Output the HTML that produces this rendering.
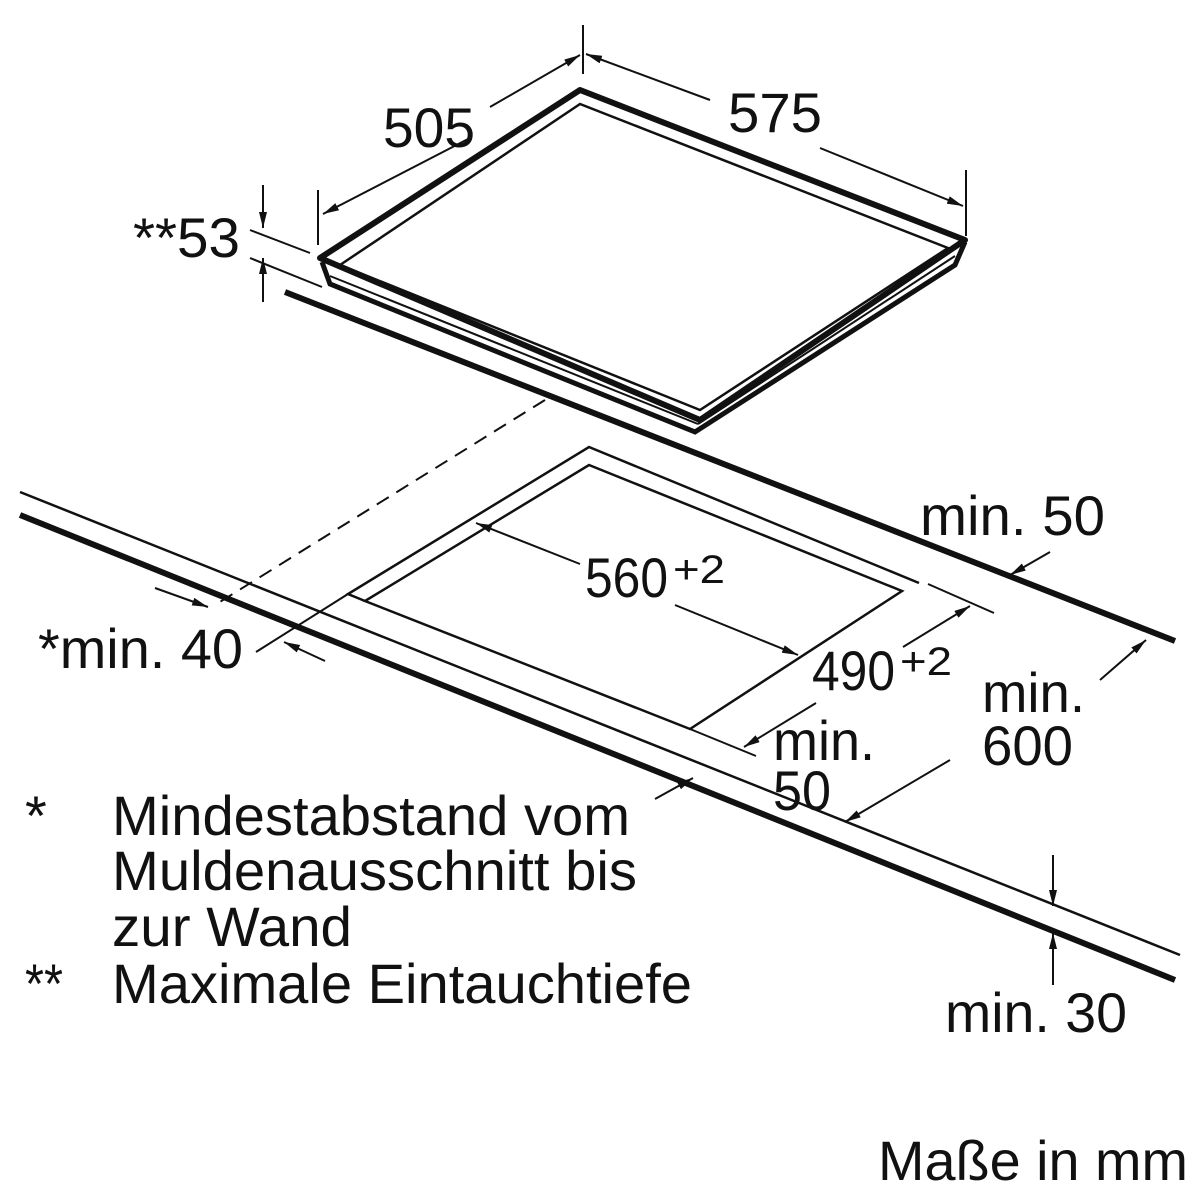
<!DOCTYPE html>
<html><head><meta charset="utf-8"><style>
html,body{margin:0;padding:0;background:#fff}
svg{display:block}
text{font-family:"Liberation Sans",sans-serif;font-size:56px;fill:#111}
</style></head><body>
<svg width="1200" height="1200" viewBox="0 0 1200 1200" xmlns="http://www.w3.org/2000/svg">
<defs>
<marker id="a" viewBox="0 0 16 8" refX="16" refY="4" markerWidth="16" markerHeight="8" orient="auto" markerUnits="userSpaceOnUse"><path d="M0,0L16,4L0,8z" fill="#111"/></marker>
</defs>
<g fill="none" stroke="#111" stroke-linecap="butt" stroke-linejoin="miter">
<polygon points="320,258 580,90 965,240 700,420" stroke-width="6" stroke-linejoin="round"/>
<polygon points="340,265 580,104 948,248 700,410" stroke-width="2.5"/>
<polyline points="322,262 330,284 695,432 955,265 965,242" stroke-width="5"/>
<line x1="330" y1="276" x2="698" y2="424" stroke-width="2"/>
<line x1="698" y1="424" x2="955" y2="256" stroke-width="2"/>
<line x1="285" y1="292" x2="1175" y2="641" stroke-width="6"/>
<line x1="20" y1="492" x2="1180" y2="955" stroke-width="2.5"/>
<line x1="20" y1="515" x2="1175" y2="980" stroke-width="6"/>
<line x1="545" y1="400" x2="215" y2="605" stroke-width="2" stroke-dasharray="14,9"/>
<polyline points="365,601 348,594 589,447 919,583" stroke-width="2.5"/>
<polygon points="365,601 589,465 902,591 690,729" stroke-width="2.5"/>
<line x1="348" y1="594" x2="256" y2="652" stroke-width="2"/>
<line x1="928" y1="584" x2="994" y2="613" stroke-width="2"/>
<line x1="690" y1="729" x2="756" y2="756" stroke-width="2"/>
<line x1="583" y1="25" x2="583" y2="74" stroke-width="2"/>
<line x1="318" y1="190" x2="318" y2="245" stroke-width="2"/>
<line x1="966" y1="170" x2="966" y2="236" stroke-width="2"/>
<line x1="470" y1="138" x2="323" y2="214" stroke-width="2" marker-end="url(#a)"/>
<line x1="490" y1="107" x2="580" y2="55" stroke-width="2" marker-end="url(#a)"/>
<line x1="710" y1="100" x2="586" y2="54" stroke-width="2" marker-end="url(#a)"/>
<line x1="820" y1="148" x2="963" y2="206" stroke-width="2" marker-end="url(#a)"/>
<line x1="250" y1="230" x2="310" y2="253" stroke-width="2"/>
<line x1="250" y1="258" x2="322" y2="287" stroke-width="2"/>
<line x1="263" y1="185" x2="263" y2="228" stroke-width="2" marker-end="url(#a)"/>
<line x1="263" y1="302" x2="263" y2="258" stroke-width="2" marker-end="url(#a)"/>
<line x1="580" y1="564" x2="476" y2="523" stroke-width="2" marker-end="url(#a)"/>
<line x1="675" y1="605" x2="798" y2="655" stroke-width="2" marker-end="url(#a)"/>
<line x1="903" y1="647" x2="970" y2="606" stroke-width="2" marker-end="url(#a)"/>
<line x1="816" y1="703" x2="744" y2="747" stroke-width="2" marker-end="url(#a)"/>
<line x1="1050" y1="552" x2="1010" y2="575" stroke-width="2" marker-end="url(#a)"/>
<line x1="1100" y1="680" x2="1146" y2="640" stroke-width="2" marker-end="url(#a)"/>
<line x1="950" y1="760" x2="845" y2="822" stroke-width="2" marker-end="url(#a)"/>
<line x1="655" y1="799" x2="693" y2="778" stroke-width="2" marker-end="url(#a)"/>
<line x1="155" y1="588" x2="208" y2="607" stroke-width="2" marker-end="url(#a)"/>
<line x1="325" y1="661" x2="284" y2="642" stroke-width="2" marker-end="url(#a)"/>
<line x1="1053" y1="855" x2="1053" y2="906" stroke-width="2" marker-end="url(#a)"/>
<line x1="1053" y1="985" x2="1053" y2="933" stroke-width="2" marker-end="url(#a)"/>
</g>
<text x="383" y="147" textLength="92" lengthAdjust="spacingAndGlyphs">505</text>
<text x="728" y="132" textLength="94" lengthAdjust="spacingAndGlyphs">575</text>
<text x="133" y="257" textLength="107" lengthAdjust="spacingAndGlyphs">**53</text>
<text x="920" y="535" textLength="185" lengthAdjust="spacingAndGlyphs">min. 50</text>
<text x="585" y="597" textLength="83" lengthAdjust="spacingAndGlyphs">560</text>
<text x="673" y="583" style="font-size:40px" textLength="52" lengthAdjust="spacingAndGlyphs">+2</text>
<text x="38" y="668" textLength="205" lengthAdjust="spacingAndGlyphs">*min. 40</text>
<text x="812" y="690" textLength="83" lengthAdjust="spacingAndGlyphs">490</text>
<text x="900" y="675" style="font-size:40px" textLength="52" lengthAdjust="spacingAndGlyphs">+2</text>
<text x="982" y="712" textLength="103" lengthAdjust="spacingAndGlyphs">min.</text>
<text x="982" y="765" textLength="91" lengthAdjust="spacingAndGlyphs">600</text>
<text x="773" y="760" textLength="102" lengthAdjust="spacingAndGlyphs">min.</text>
<text x="773" y="810" textLength="58" lengthAdjust="spacingAndGlyphs">50</text>
<text x="25" y="835">*</text>
<text x="112" y="835" textLength="518" lengthAdjust="spacingAndGlyphs">Mindestabstand vom</text>
<text x="112" y="890" textLength="525" lengthAdjust="spacingAndGlyphs">Muldenausschnitt bis</text>
<text x="112" y="946" textLength="240" lengthAdjust="spacingAndGlyphs">zur Wand</text>
<text x="25" y="1003" textLength="38" lengthAdjust="spacingAndGlyphs">**</text>
<text x="112" y="1003" textLength="580" lengthAdjust="spacingAndGlyphs">Maximale Eintauchtiefe</text>
<text x="945" y="1032" textLength="182" lengthAdjust="spacingAndGlyphs">min. 30</text>
<text x="878" y="1180" textLength="310" lengthAdjust="spacingAndGlyphs">Maße in mm</text>
</svg>
</body></html>
